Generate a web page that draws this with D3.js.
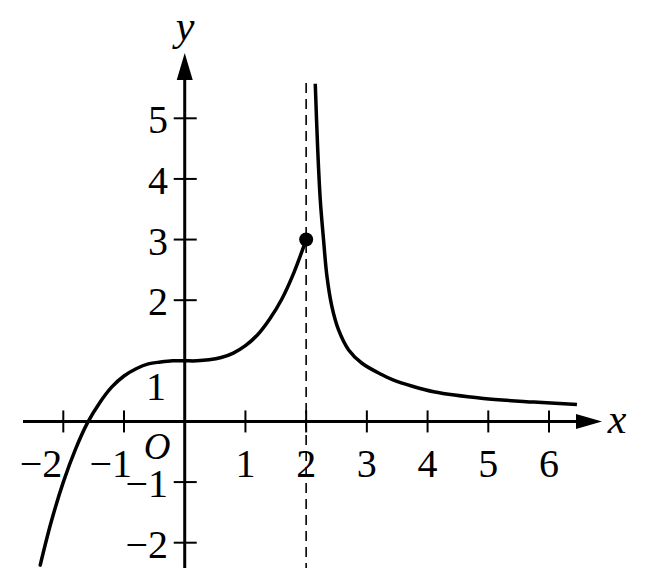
<!DOCTYPE html>
<html>
<head>
<meta charset="utf-8">
<script src="https://cdn.jsdelivr.net/npm/d3@7/dist/d3.min.js"></script>
<style>
  html, body { margin: 0; padding: 0; background: #fff; }
  svg { display: block; }
  text { font-family: "Liberation Serif", "DejaVu Serif", serif; fill: #000; }
</style>
</head>
<body>
<svg id="chart" width="647" height="587"></svg>
<script>
// ---- data ----
const xTicks = [-2, -1, 1, 2, 3, 4, 5, 6];
const yTicks = [-2, -1, 1, 2, 3, 4, 5];
const xTickLabels = ["−2", "−1", "1", "2", "3", "4", "5", "6"];
const yTickLabels = ["−2", "−1", "1", "2", "3", "4", "5"];

// left branch (x <= 2)
const leftX = [-2.38, -2.2, -2.0, -1.8, -1.6, -1.4, -1.2, -1.0, -0.8, -0.6, -0.4, -0.2, 0, 0.2, 0.4, 0.6, 0.8, 1.0, 1.2, 1.4, 1.6, 1.8, 2.0];
const leftY = [-2.37, -1.66, -1.0, -0.46, -0.02, 0.31, 0.57, 0.75, 0.87, 0.95, 0.98, 1.0, 1.0, 1.0, 1.016, 1.054, 1.128, 1.25, 1.43, 1.69, 2.02, 2.46, 3.0];

// right branch (x > 2)
const rightX = [2.15, 2.19, 2.233, 2.287, 2.343, 2.425, 2.534, 2.70, 2.92, 3.25, 3.44, 3.75, 4.1, 4.92, 5.75, 6.46];
const rightY = [5.57, 4.5, 3.65, 2.99, 2.39, 1.89, 1.51, 1.18, 0.96, 0.77, 0.68, 0.58, 0.49, 0.38, 0.32, 0.28];

// highlighted point and asymptote
const dotPoint = [2, 3];
const asymptoteX = 2;

// ---- drawing ----
const svg = d3.select("#chart");
const x = d3.scaleLinear().domain([-2, 6]).range([63.3, 549]);
const y = d3.scaleLinear().domain([-2, 5]).range([542.7, 118.3]);

const x0 = x(0), y0 = y(0);

// dashed asymptote
svg.append("line")
  .attr("x1", x(asymptoteX)).attr("x2", x(asymptoteX))
  .attr("y1", 83).attr("y2", 568)
  .attr("stroke", "#000").attr("stroke-width", 1.6)
  .attr("stroke-dasharray", "10,6");

// x axis
svg.append("line")
  .attr("x1", 23).attr("x2", 585)
  .attr("y1", y0).attr("y2", y0)
  .attr("stroke", "#000").attr("stroke-width", 3);
svg.append("path")
  .attr("d", `M602,${y0} L576,${y0 - 7.5} L576,${y0 + 7.5} Z`)
  .attr("fill", "#000");

// y axis
svg.append("line")
  .attr("x1", x0).attr("x2", x0)
  .attr("y1", 568).attr("y2", 70)
  .attr("stroke", "#000").attr("stroke-width", 3);
svg.append("path")
  .attr("d", `M${x0},53 L${x0 - 8},80 L${x0 + 8},80 Z`)
  .attr("fill", "#000");

// x ticks
svg.selectAll(".xt").data(xTicks).enter().append("line")
  .attr("x1", d => x(d)).attr("x2", d => x(d))
  .attr("y1", y0 - 11).attr("y2", y0 + 11)
  .attr("stroke", "#000").attr("stroke-width", 2);

// y ticks
svg.selectAll(".yt").data(yTicks).enter().append("line")
  .attr("x1", x0 - 11).attr("x2", x0 + 12)
  .attr("y1", d => y(d)).attr("y2", d => y(d))
  .attr("stroke", "#000").attr("stroke-width", 2);

// x tick labels
svg.selectAll(".xl").data(xTicks).enter().append("text")
  .attr("x", d => d === -2 ? x(d) - 1 : d === -1 ? x(d) + 8 : x(d))
  .attr("y", 477)
  .attr("text-anchor", d => d < 0 ? "end" : "middle")
  .attr("font-size", 40)
  .text((d, i) => xTickLabels[i]);

// y tick labels
svg.selectAll(".yl").data(yTicks).enter().append("text")
  .attr("x", d => d === 1 ? 166 : 168)
  .attr("y", d => d === 1 ? 400 : y(d) + 15)
  .attr("text-anchor", "end")
  .attr("font-size", 40)
  .text((d, i) => yTickLabels[i]);

// origin label
svg.append("text")
  .attr("x", 157).attr("y", 459)
  .attr("text-anchor", "middle")
  .attr("font-size", 37).attr("font-style", "italic")
  .text("O");

// axis names
svg.append("text")
  .attr("x", 617).attr("y", 433)
  .attr("text-anchor", "middle")
  .attr("font-size", 42).attr("font-style", "italic")
  .text("x");
svg.append("text")
  .attr("x", 185).attr("y", 40)
  .attr("text-anchor", "middle")
  .attr("font-size", 42).attr("font-style", "italic")
  .text("y");

// curves
const line = d3.line()
  .x(d => x(d[0])).y(d => y(d[1]))
  .curve(d3.curveCatmullRom.alpha(0.5));

svg.append("path")
  .datum(leftX.map((v, i) => [v, leftY[i]]))
  .attr("d", line)
  .attr("fill", "none").attr("stroke", "#000")
  .attr("stroke-width", 3.5).attr("stroke-linecap", "round");

svg.append("path")
  .datum(rightX.map((v, i) => [v, rightY[i]]))
  .attr("d", line)
  .attr("fill", "none").attr("stroke", "#000")
  .attr("stroke-width", 3.5).attr("stroke-linecap", "butt");

// point
svg.append("circle")
  .attr("cx", x(dotPoint[0])).attr("cy", y(dotPoint[1]))
  .attr("r", 7).attr("fill", "#000");
</script>
</body>
</html>
